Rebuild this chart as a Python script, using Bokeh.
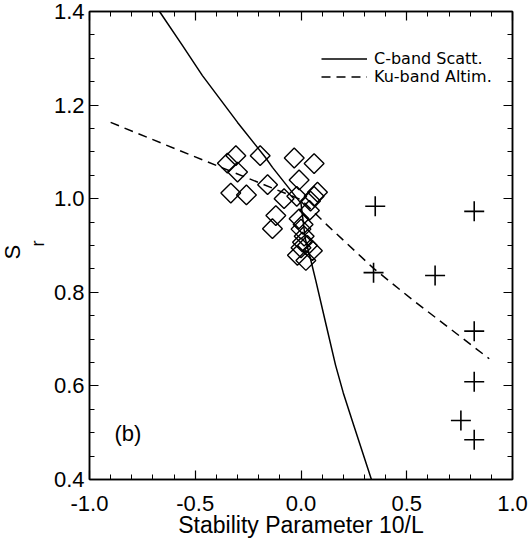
import math
from bokeh.plotting import figure
from bokeh.models import (LinearAxis, FixedTicker, PrintfTickFormatter, Label, Range1d, Title,
                          Legend, LegendItem)
from bokeh.embed import file_html
from bokeh.resources import INLINE

# ---- data ----
c_band_x = [-0.669, -0.56, -0.466, -0.30, -0.168, -0.135, 0.0, 0.02, 0.05, 0.07, 0.12, 0.163, 0.20, 0.25, 0.333]
c_band_y = [1.400, 1.327, 1.263, 1.163, 1.088, 1.067, 0.99, 0.915, 0.862, 0.825, 0.728, 0.645, 0.585, 0.515, 0.400]

ku_band_x = [-0.90, -0.466, 0.0, 0.125, 0.346, 0.527, 0.89]
ku_band_y = [1.163, 1.083, 0.998, 0.943, 0.850, 0.784, 0.658]

diamond_x = [-0.348, -0.308, -0.300, -0.332, -0.258, -0.193, -0.158, -0.119, -0.135, -0.080,
             -0.032, 0.062, -0.009, 0.078, 0.062, 0.045, -0.020, -0.009, 0.000, 0.007,
             0.015, 0.023, -0.017, 0.054, 0.000, 0.030, 0.040, 0.010]
diamond_y = [1.076, 1.092, 1.057, 1.012, 1.008, 1.092, 1.030, 0.964, 0.936, 1.000,
             1.087, 1.075, 1.040, 1.014, 1.005, 0.995, 1.005, 0.957, 0.935, 0.907,
             0.920, 0.868, 0.879, 0.889, 0.895, 0.900, 0.975, 0.945]

cross_x = [0.351, 0.819, 0.343, 0.634, 0.819, 0.819, 0.756, 0.819]
cross_y = [0.984, 0.973, 0.842, 0.836, 0.717, 0.609, 0.526, 0.485]

x_ticks = [-1.0, -0.5, 0.0, 0.5, 1.0]
x_minor = [round(-1.0 + 0.1 * i, 2) for i in range(21)]
y_ticks = [0.4, 0.6, 0.8, 1.0, 1.2, 1.4]
y_minor = [round(0.4 + 0.05 * i, 2) for i in range(21)]

series_labels = ["C-band Scatt.", "Ku-band Altim."]

FONT = "Liberation Sans"

p = figure(frame_width=423, frame_height=468, output_backend="svg", toolbar_location=None,
           x_range=Range1d(-1.0, 1.0), y_range=Range1d(0.4, 1.4),
           x_axis_location=None, y_axis_location=None,
           min_border_left=87, min_border_right=21, min_border_top=11, min_border_bottom=52)
p.grid.visible = False
p.outline_line_color = "black"
p.outline_line_width = 1.5
p.background_fill_color = "white"
p.border_fill_color = "white"

def make_axis(ticks, minor, labels=True):
    ax = LinearAxis(ticker=FixedTicker(ticks=ticks, minor_ticks=minor),
                    formatter=PrintfTickFormatter(format="%.1f"))
    ax.major_tick_in = 9
    ax.major_tick_out = 0
    ax.minor_tick_in = 5
    ax.minor_tick_out = 0
    ax.axis_line_color = "black"
    ax.axis_line_width = 1.5
    ax.major_tick_line_width = 1.2
    ax.minor_tick_line_width = 1.0
    ax.major_label_text_font = FONT
    ax.major_label_text_font_size = "22px"
    ax.major_label_text_color = "black"
    if not labels:
        ax.major_label_text_font_size = "0px"
        ax.major_label_standoff = 0
    return ax

xb = make_axis(x_ticks, x_minor)
xb.major_label_standoff = 16
xb.axis_label = "Stability Parameter 10/L"
xb.axis_label_text_font = FONT
xb.axis_label_text_font_size = "23px"
xb.axis_label_text_font_style = "normal"
xb.axis_label_text_color = "black"
xb.axis_label_standoff = -2
p.add_layout(xb, "below")
p.add_layout(make_axis(x_ticks, x_minor, labels=False), "above")

yl = make_axis(y_ticks, y_minor)
yl.major_label_standoff = 5
p.add_layout(yl, "left")
p.add_layout(make_axis(y_ticks, y_minor, labels=False), "right")

# y label S_r (subscript r sits next to the frame, S outside it)
p.add_layout(Title(text="r", align="left", offset=233, standoff=6, text_font=FONT,
                   text_font_size="18px", text_font_style="normal", text_color="black"), "left")
p.add_layout(Title(text="S", align="left", offset=220, standoff=-5, text_font=FONT,
                   text_font_size="22px", text_font_style="normal", text_color="black"), "left")

# curves
r_c = p.line(c_band_x, c_band_y, line_color="black", line_width=1.5)
r_ku = p.line(ku_band_x, ku_band_y, line_color="black", line_width=1.5, line_dash="9 6")

# markers
p.scatter(diamond_x, diamond_y, marker="square", size=14, angle=math.pi / 4,
          fill_color=None, line_color="black", line_width=1.4)
p.scatter(cross_x, cross_y, marker="cross", size=20, line_color="black", line_width=1.6)

# panel label
p.add_layout(Label(x=-0.882, y=0.498, text="(b)", text_align="left", text_baseline="middle",
                   text_font=FONT, text_font_size="22px", text_color="black"))

def make_legend(label, rend, loc):
    lg = Legend(items=[LegendItem(label=label, renderers=[rend])], location=loc)
    lg.padding = 0
    lg.margin = 0
    lg.spacing = 0
    lg.glyph_height = 15
    lg.label_height = 15
    lg.glyph_width = 46
    lg.label_standoff = 7
    lg.border_line_color = None
    lg.background_fill_alpha = 0
    lg.label_text_font = "DejaVu Sans"
    lg.label_text_font_size = "16px"
    lg.label_text_color = "black"
    return lg

p.add_layout(make_legend(series_labels[0], r_c, (232, 411)))
p.add_layout(make_legend(series_labels[1], r_ku, (232, 393)))

open("out.html", "w").write(file_html(p, INLINE))
